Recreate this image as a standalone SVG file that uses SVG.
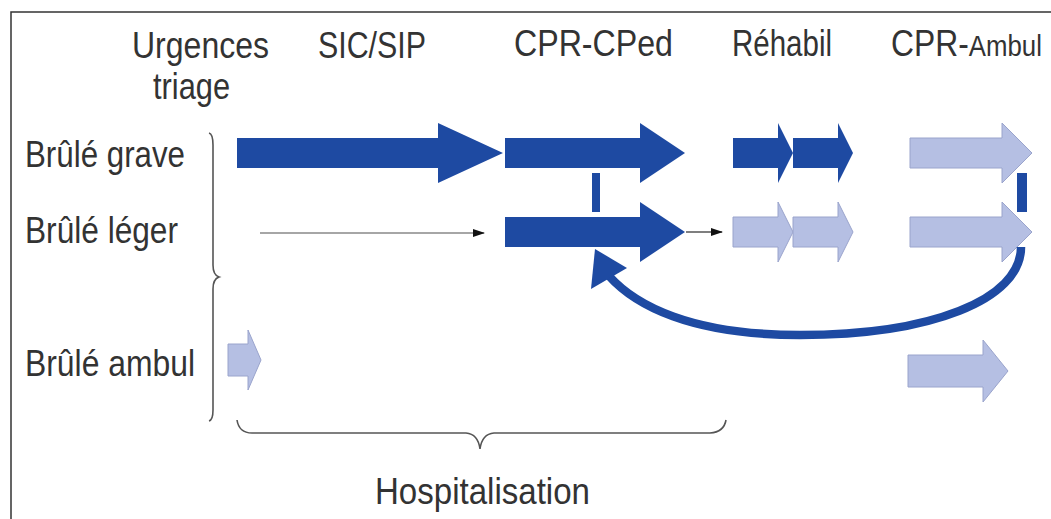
<svg xmlns="http://www.w3.org/2000/svg" width="1051" height="519" viewBox="0 0 1051 519">
  <style>
    .t { font-family: "Liberation Sans", Arial, sans-serif; font-size: 37px; fill: #333; }
    .dark { fill: #1e4aa2; }
    .light { fill: #b5bfe3; stroke: #9aa4cc; stroke-width: 1; }
    .brace { fill: none; stroke: #555; stroke-width: 1.6; }
  </style>
  <defs>
    <marker id="blackhead" markerWidth="12" markerHeight="8" refX="11" refY="4" orient="auto" markerUnits="userSpaceOnUse">
      <polygon points="0,0 12,4 0,8" fill="#111"/>
    </marker>
  </defs>
  <rect width="1051" height="519" fill="#fff"/>
  <g id="frame">
    <path d="M11,519 L11,12 L1051,12" fill="none" stroke="#333" stroke-width="1.5"/>
  </g>

  <g id="headers">
    <text class="t" x="132" y="58" textLength="137" lengthAdjust="spacingAndGlyphs">Urgences</text>
    <text class="t" x="153" y="99" textLength="77" lengthAdjust="spacingAndGlyphs">triage</text>
    <text class="t" x="318" y="58" textLength="108" lengthAdjust="spacingAndGlyphs">SIC/SIP</text>
    <text class="t" x="514" y="56" textLength="159" lengthAdjust="spacingAndGlyphs">CPR-CPed</text>
    <text class="t" x="732" y="56" textLength="100" lengthAdjust="spacingAndGlyphs">Réhabil</text>
    <text class="t" transform="translate(891,56) scale(0.86,1)">CPR-<tspan style="font-size:30px">Ambul</tspan></text>
  </g>

  <g id="row-labels">
    <text class="t" x="25" y="167" textLength="160" lengthAdjust="spacingAndGlyphs">Brûlé grave</text>
    <text class="t" x="25" y="243" textLength="153" lengthAdjust="spacingAndGlyphs">Brûlé léger</text>
    <text class="t" x="25" y="376" textLength="170" lengthAdjust="spacingAndGlyphs">Brûlé ambul</text>
  </g>

  <g id="brace-left">
    <path class="brace" d="M209,133 Q213,134 213,145 L213,265 Q213,275 219,277 Q213,279 213,289 L213,410 Q213,420 209,421"/>
  </g>
  <g id="brace-hospitalisation">
    <path class="brace" d="M237,420 Q239,433 252,433 L466,433 Q478,434 480,449 Q482,434 494,433 L710,433 Q724,432 726,420"/>
    <text class="t" x="375" y="504" textLength="215" lengthAdjust="spacingAndGlyphs">Hospitalisation</text>
  </g>

  <g id="arrows-grave">
    <polygon id="grave-sic" class="dark" points="237,138 438,138 438,123 503,153 438,183 438,168 237,168"/>
    <polygon id="grave-cpr" class="dark" points="505,138 640,138 640,123 685,153 640,183 640,168 505,168"/>
    <polygon id="grave-rehab1" class="dark" points="733,138 778,138 778,123 793,153 778,183 778,168 733,168"/>
    <polygon id="grave-rehab2" class="dark" points="793,138 838,138 838,123 853,153 838,183 838,168 793,168"/>
    <polygon id="grave-ambul" class="light" points="910,138 1002,138 1002,123 1032,153 1002,183 1002,168 910,168"/>
  </g>

  <g id="arrows-leger">
    <polygon id="leger-cpr" class="dark" points="505,217 640,217 640,202 685,232 640,262 640,247 505,247"/>
    <polygon id="leger-rehab1" class="light" points="733,217 778,217 778,202 793,232 778,262 778,247 733,247"/>
    <polygon id="leger-rehab2" class="light" points="793,217 838,217 838,202 853,232 838,262 838,247 793,247"/>
    <polygon id="leger-ambul" class="light" points="910,217 1002,217 1002,202 1032,232 1002,262 1002,247 910,247"/>
  </g>

  <g id="arrows-ambul">
    <polygon id="ambul-urg" class="light" points="228,344 248,344 248,330 261,360 248,390 248,376 228,376"/>
    <polygon id="ambul-cpr" class="light" points="908,355 983,355 983,340 1008,371 983,402 983,387 908,387"/>
  </g>

  <g id="connectors">
    <line x1="260" y1="233" x2="484" y2="233" stroke="#888" stroke-width="1.5" marker-end="url(#blackhead)"/>
    <line x1="686" y1="232" x2="722" y2="232" stroke="#555" stroke-width="1.5" marker-end="url(#blackhead)"/>
    <rect x="592" y="173" width="8" height="39" class="dark"/>
    <rect x="1017" y="173" width="10" height="39" class="dark"/>
    <path d="M1021,247 C1021,300 930,335 800,335 C690,335 635,305 609,276" fill="none" stroke="#1e4aa2" stroke-width="8.5"/>
    <polygon points="595,249 591,289 627,268" class="dark"/>
  </g>
</svg>
